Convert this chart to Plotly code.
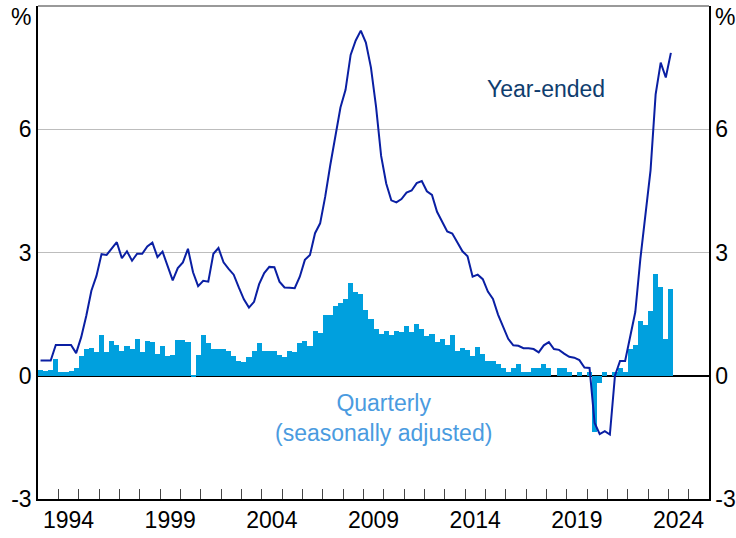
import plotly.graph_objects as go

# quarterly series, 1993 Q1 to 2024 Q1
start_year = 1993
quarterly = [
    0.13, 0.12, 0.13, 0.40, 0.08, 0.08, 0.12, 0.20,
    0.47, 0.64, 0.68, 0.59, 1.00, 0.59, 0.85, 0.76,
    0.60, 0.73, 0.66, 0.90, 0.59, 0.85, 0.83, 0.54,
    0.73, 0.49, 0.51, 0.88, 0.86, 0.82, -0.03, 0.51,
    0.98, 0.79, 0.64, 0.66, 0.64, 0.61, 0.49, 0.35,
    0.33, 0.45, 0.61, 0.80, 0.60, 0.60, 0.60, 0.50,
    0.45, 0.60, 0.58, 0.79, 0.84, 0.72, 1.08, 1.05,
    1.47, 1.47, 1.69, 1.76, 1.86, 2.25, 2.03, 2.00,
    1.59, 1.37, 1.13, 1.01, 1.08, 0.98, 1.08, 1.06,
    1.22, 1.06, 1.25, 1.13, 0.96, 1.01, 0.82, 0.89,
    0.74, 0.98, 0.60, 0.67, 0.62, 0.48, 0.70, 0.54,
    0.37, 0.35, 0.28, 0.19, 0.08, 0.19, 0.28, 0.08,
    0.08, 0.19, 0.19, 0.28, 0.19, 0.00, 0.19, 0.19,
    0.08, 0.00, 0.08, 0.00, 0.08, -1.37, -0.17, 0.10,
    0.00, 0.10, 0.20, 0.10, 0.64, 0.74, 1.34, 1.24,
    1.58, 2.48, 2.16, 0.90, 2.11,
]
year_ended = [
    0.37, 0.37, 0.37, 0.75, 0.75, 0.75, 0.75, 0.55,
    0.94, 1.46, 2.07, 2.43, 2.96, 2.94, 3.10, 3.25,
    2.86, 3.03, 2.80, 2.97, 2.97, 3.15, 3.24, 2.89,
    3.02, 2.65, 2.32, 2.62, 2.76, 3.09, 2.52, 2.18,
    2.31, 2.29, 2.97, 3.11, 2.76, 2.60, 2.46, 2.15,
    1.86, 1.66, 1.80, 2.23, 2.50, 2.65, 2.64, 2.29,
    2.15, 2.14, 2.13, 2.41, 2.82, 2.94, 3.47, 3.71,
    4.36, 5.13, 5.82, 6.53, 6.96, 7.81, 8.16, 8.40,
    8.11, 7.50, 6.55, 5.35, 4.68, 4.27, 4.22, 4.30,
    4.46, 4.51, 4.69, 4.74, 4.49, 4.40, 3.99, 3.73,
    3.51, 3.46, 3.23, 3.03, 2.91, 2.41, 2.46, 2.35,
    2.05, 1.87, 1.49, 1.19, 0.90, 0.74, 0.73, 0.67,
    0.67, 0.65, 0.57, 0.74, 0.82, 0.65, 0.63, 0.54,
    0.46, 0.44, 0.38, 0.20, 0.19, -1.15, -1.42, -1.35,
    -1.43, 0.00, 0.36, 0.36, 1.00, 1.55, 2.85, 4.00,
    5.00, 6.85, 7.62, 7.26, 7.86,
]
year_labels = ["1994", "1999", "2004", "2009", "2014", "2019", "2024"]
y_ticks = [-3, 0, 3, 6]
y_labels = ["-3", "0", "3", "6"]

# each quarter placed at its midpoint
x = [start_year + 0.25 * i + 0.125 for i in range(len(quarterly))]

font = "Arial, Liberation Sans, sans-serif"

fig = go.Figure()
fig.add_trace(go.Bar(x=x, y=quarterly, width=0.25, marker_color="#00A0DE",
                     marker_line_width=0, showlegend=False))
fig.add_trace(go.Scatter(x=x, y=year_ended, mode="lines",
                         line=dict(color="#0A1FA3", width=2), showlegend=False))
# invisible trace so the right axis is drawn
fig.add_trace(go.Scatter(x=[x[0]], y=[0], yaxis="y2", mode="markers",
                         marker=dict(opacity=0), showlegend=False, hoverinfo="skip"))

fig.update_layout(
    width=736, height=538,
    margin=dict(l=38, r=27, t=6, b=39),
    paper_bgcolor="white", plot_bgcolor="white",
    bargap=0,
    font=dict(family=font, size=23, color="black"),
    xaxis=dict(
        range=[1993, 2026], automargin=False,
        tickvals=[int(y) + 0.5 for y in year_labels],
        ticktext=year_labels,
        ticks="",
        showgrid=False, zeroline=False,
        showline=True, linecolor="black", linewidth=1.5,
        minor=dict(tickvals=list(range(1994, 2026)), ticks="inside",
                   ticklen=10, tickcolor="#444444", tickwidth=1, showgrid=False),
    ),
    yaxis=dict(
        range=[-3, 9], automargin=False,
        tickvals=y_ticks, ticktext=y_labels, ticks="",
        showgrid=True, gridcolor="#BDBDBD", gridwidth=1,
        zeroline=True, zerolinecolor="black", zerolinewidth=1.5,
        showline=True, linecolor="black", linewidth=1.5,
    ),
    yaxis2=dict(
        range=[-3, 9], automargin=False,
        tickvals=y_ticks, ticktext=y_labels, ticks="",
        overlaying="y", side="right", anchor="x",
        showgrid=False, zeroline=False,
        showline=True, linecolor="black", linewidth=1.5,
    ),
    shapes=[dict(type="line", xref="paper", yref="paper", x0=0, x1=1, y0=1, y1=1,
                 line=dict(color="#777777", width=1.5))],
    annotations=[
        dict(text="%", xref="paper", yref="paper", x=-0.007, y=0.978,
             xanchor="right", yanchor="middle", showarrow=False),
        dict(text="%", xref="paper", yref="paper", x=1.006, y=0.978,
             xanchor="left", yanchor="middle", showarrow=False),
        dict(text="Year-ended", x=2018.0, y=6.98, showarrow=False,
             font=dict(color="#0F3D6E", size=23)),
        dict(text="Quarterly<br>(seasonally adjusted)", x=2010.0, y=-1.03,
             showarrow=False, font=dict(color="#4A9BE0", size=23)),
    ],
)

# drop the default page margin so the figure sits at the window's corner
fig.write_html("out.html", config={"displayModeBar": False},
               post_script="document.body.style.margin='0';")
